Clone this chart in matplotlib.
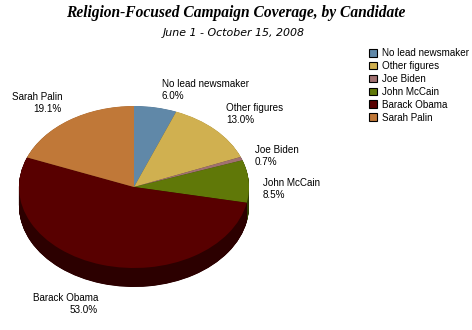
import numpy as np
import matplotlib
matplotlib.use("Agg")
import matplotlib.pyplot as plt
from matplotlib.patches import Patch
from matplotlib.colors import to_rgb

categories = ["No lead newsmaker", "Other figures", "Joe Biden",
              "John McCain", "Barack Obama", "Sarah Palin"]
shares = [6.0, 13.0, 0.7, 8.5, 53.0, 19.1]
colors = ["#6088a8", "#d0b050", "#a07070", "#607808", "#580000", "#c07838"]

# label anchor (pixel x, pixel y, horizontal alignment)
label_pos = [(162, 90, "left"), (226, 114, "left"), (255, 156, "left"),
             (263, 189, "left"), (98, 304, "right"), (62, 103, "right")]

W, H = 472, 330
cx, cy = 134, 187      # pie centre in pixels
rx, ry = 115, 81       # ellipse radii
depth = 19

fig = plt.figure(figsize=(W / 100, H / 100), dpi=100)
fig.patch.set_facecolor("white")

ax = fig.add_axes([0, 0, 1, 1])
side_colors = [tuple(c * 0.5 for c in to_rgb(col)) for col in colors]

n_layers = 60
for k in range(n_layers, 0, -1):
    off = -depth * k / n_layers / ry
    ax.pie(shares, colors=side_colors, startangle=90, counterclock=False,
           center=(0, off), radius=1, wedgeprops=dict(linewidth=0))
ax.pie(shares, colors=colors, startangle=90, counterclock=False,
       center=(0, 0), radius=1, wedgeprops=dict(linewidth=0))
ax.set_aspect("auto")
ax.set_xlim(-cx / rx, (W - cx) / rx)
ax.set_ylim(-(H - cy) / ry, cy / ry)
ax.axis("off")

ov = fig.add_axes([0, 0, 1, 1])
ov.set_xlim(0, W)
ov.set_ylim(H, 0)
ov.axis("off")
ov.patch.set_alpha(0)

ov.text(236, 13, "Religion-Focused Campaign Coverage, by Candidate",
        ha="center", va="center", family="Liberation Serif",
        weight="bold", style="italic", fontsize=11.2)
ov.text(234, 33, "June 1 - October 15, 2008", ha="center", va="center",
        family="DejaVu Sans", style="italic", fontsize=7.9)

for name, val, (x, y, ha) in zip(categories, shares, label_pos):
    ov.text(x, y, f"{name}\n{val:.1f}%", ha=ha, va="center",
            multialignment=ha, family="Liberation Sans", fontsize=7.1,
            linespacing=1.15)

handles = [Patch(facecolor=c, edgecolor="black", linewidth=0.8) for c in colors]
fig.legend(handles, categories, loc="upper left",
           bbox_to_anchor=(369 / W, 1 - 48 / H), frameon=False,
           prop=dict(family="Liberation Sans", size=7.1),
           handlelength=0.85, handleheight=0.85, handletextpad=0.45,
           labelspacing=0.3, borderpad=0, borderaxespad=0)

fig.savefig("out.png", dpi=100, facecolor="white")
